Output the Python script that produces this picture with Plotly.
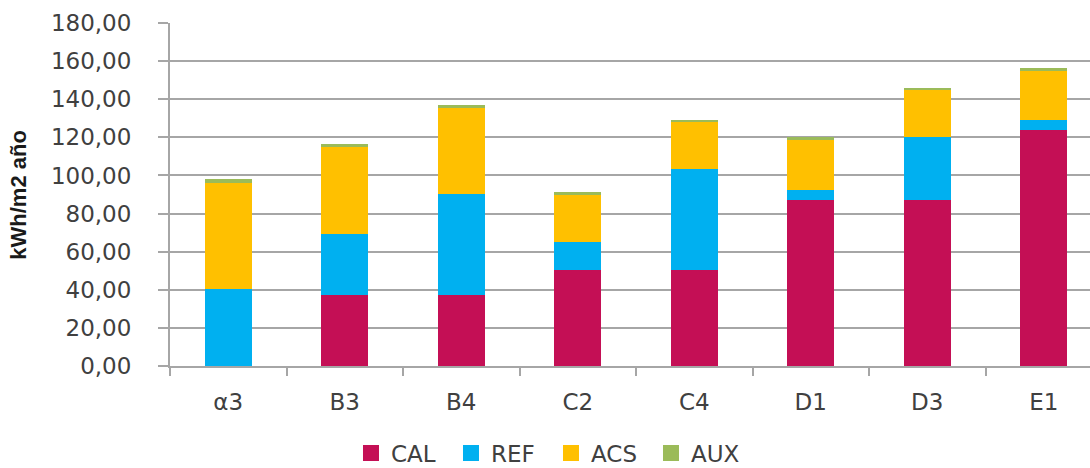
import plotly.graph_objects as go

categories = ["α3", "B3", "B4", "C2", "C4", "D1", "D3", "E1"]
cal = [0.0, 37.3, 37.3, 50.4, 50.4, 87.0, 87.0, 123.8]
ref = [40.4, 32.0, 52.8, 14.7, 52.8, 5.4, 33.0, 5.3]
acs = [55.8, 46.1, 45.3, 24.6, 25.0, 26.2, 24.8, 25.9]
aux = [1.8, 1.0, 1.4, 1.4, 1.1, 1.4, 1.1, 1.4]

series_names = ["CAL", "REF", "ACS", "AUX"]
series_values = [cal, ref, acs, aux]
colors = ["#C40F55", "#00B0F0", "#FFC000", "#9BBB59"]

fig = go.Figure()
for name, vals, col in zip(series_names, series_values, colors):
    fig.add_trace(go.Bar(x=categories, y=vals, name=name, marker=dict(color=col, line=dict(width=0)),
                         width=0.4, showlegend=False))
# legend entries (bigger square symbols)
for name, col in zip(series_names, colors):
    fig.add_trace(go.Scatter(x=[None], y=[None], mode="markers", name=name,
                             marker=dict(symbol="square", size=16, color=col)))

grid = "#A6A6A6"
txt = "#404040"
fig.update_layout(
    width=1090, height=468,
    margin=dict(l=170, r=0, t=23, b=102),
    plot_bgcolor="white", paper_bgcolor="white",
    barmode="stack",
    separators=",.",
    font=dict(family="DejaVu Sans", size=23, color=txt),
    showlegend=True,
    legend=dict(orientation="h", xref="container", yref="container", x=0.5055, y=0.032,
                xanchor="center", yanchor="middle", font=dict(size=23, color=txt),
                traceorder="normal", itemwidth=30, tracegroupgap=0,
                entrywidth=55, entrywidthmode="pixels"),
    xaxis=dict(type="category", range=[-0.5, 7.397], showline=True, linecolor=grid, linewidth=2,
               ticks="outside", tickson="boundaries", ticklen=8, tickwidth=2, tickcolor=grid,
               showgrid=False, ticklabelstandoff=14, tickfont=dict(size=23, color=txt)),
    yaxis=dict(range=[0, 180], dtick=20, tickformat=".2f", showline=True, linecolor=grid, linewidth=2,
               ticks="outside", ticklen=10, tickwidth=2, tickcolor=grid,
               showgrid=True, gridcolor=grid, gridwidth=2, zeroline=False,
               ticklabelstandoff=22, tickfont=dict(size=23, color=txt)),
    annotations=[dict(text="<b>kWh/m2 año</b>", textangle=-90, xref="paper", yref="paper",
                      x=-0.165, y=0.5, showarrow=False, xanchor="center", yanchor="middle",
                      font=dict(family="Liberation Sans", size=22, color="#1a1a1a"))],
)
fig.write_html("out.html")
